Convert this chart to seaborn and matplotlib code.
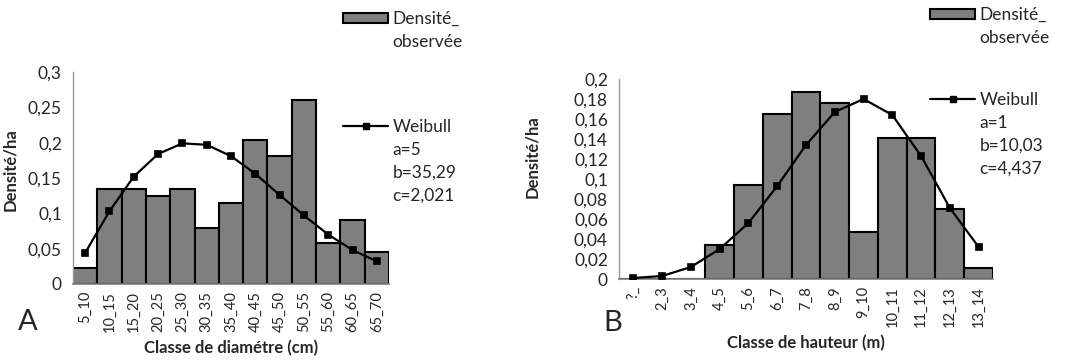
import numpy as np
import pandas as pd
import matplotlib
matplotlib.use("Agg")
import matplotlib.pyplot as plt
from matplotlib.lines import Line2D
from matplotlib.patches import Patch
import seaborn as sns


# Panel A: diameter classes
diam_classes = ["5_10", "10_15", "15_20", "20_25", "25_30", "30_35", "35_40",
                "40_45", "45_50", "50_55", "55_60", "60_65", "65_70"]
diam_observed = [0.022, 0.134, 0.135, 0.124, 0.135, 0.079, 0.114,
                 0.204, 0.181, 0.261, 0.058, 0.091, 0.045]
diam_weibull = [0.044, 0.103, 0.152, 0.184, 0.199, 0.197, 0.181,
                0.156, 0.126, 0.097, 0.070, 0.048, 0.032]
diam_params = ["a=5", "b=35,29", "c=2,021"]
diam_yticks = [0, 0.05, 0.1, 0.15, 0.2, 0.25, 0.3]

# Panel B: height classes
haut_classes = ["?_", "2_3", "3_4", "4_5", "5_6", "6_7", "7_8", "8_9",
                "9_10", "10_11", "11_12", "12_13", "13_14"]
haut_observed = [0, 0, 0, 0.034, 0.094, 0.165, 0.187, 0.176,
                 0.047, 0.141, 0.141, 0.070, 0.011]
haut_weibull = [0.001, 0.003, 0.012, 0.030, 0.056, 0.093, 0.134, 0.167,
                0.180, 0.164, 0.123, 0.071, 0.032]
haut_params = ["a=1", "b=10,03", "c=4,437"]
haut_yticks = [0, 0.02, 0.04, 0.06, 0.08, 0.1, 0.12, 0.14, 0.16, 0.18, 0.2]

BAR_COLOR = "#7f7f7f"
TEXT_COLOR = "#262626"
AXIS_COLOR = "#9a9a9a"


def comma(v: float) -> str:
    return f"{v:g}".replace(".", ",")


def draw_panel(ax, classes, observed, weibull, yticks, xlabel):
    sns.barplot(x=classes, y=observed, color=BAR_COLOR, edgecolor="black",
                linewidth=1.5, width=1.0, saturation=1, ax=ax, zorder=2)
    sns.pointplot(x=classes, y=weibull, color="black", markers="s",
                  linestyles="-", markersize=4.5, linewidth=1.6,
                  errorbar=None, ax=ax, zorder=3)
    ax.set_xlim(-0.5, len(classes) - 0.5)
    ax.set_ylim(yticks[0], yticks[-1])
    ax.set_yticks(yticks)
    ax.set_yticklabels([comma(v) for v in yticks], fontsize=12.5, color=TEXT_COLOR)
    ax.set_xticks(range(len(classes)))
    ax.set_xticklabels(classes, rotation=90, fontsize=10.5, color=TEXT_COLOR)
    ax.tick_params(axis="x", length=0, pad=5)
    ax.tick_params(axis="y", length=4, color=AXIS_COLOR, pad=4)
    for side in ["top", "right"]:
        ax.spines[side].set_visible(False)
    ax.spines["left"].set_color(AXIS_COLOR)
    ax.spines["bottom"].set_color("#808080")
    ax.spines["left"].set_linewidth(1.0)
    ax.spines["bottom"].set_linewidth(1.2)
    ax.set_xlabel(xlabel, fontsize=12, fontweight="bold", color=TEXT_COLOR,
                  labelpad=6)
    ax.set_ylabel("Densité/ha", fontsize=12, fontweight="bold", color=TEXT_COLOR)
    ax.grid(False)


def add_legends(fig, x, y_bar, y_line, params):
    blank = Patch(facecolor="none", edgecolor="none")
    bar_handle = Patch(facecolor=BAR_COLOR, edgecolor="black", linewidth=1.5)
    leg1 = fig.legend([bar_handle, blank], ["Densité_", "observée"],
                      loc="upper left", bbox_to_anchor=(x, y_bar),
                      frameon=False, fontsize=12.5, handlelength=2.6,
                      handleheight=0.5, handletextpad=0.25, labelspacing=0.4,
                      borderpad=0, borderaxespad=0)
    line_handle = Line2D([], [], color="black", marker="s", markersize=4.5,
                         linewidth=1.6)
    leg2 = fig.legend([line_handle, blank, blank, blank], ["Weibull"] + params,
                      loc="upper left", bbox_to_anchor=(x, y_line),
                      frameon=False, fontsize=12.5, handlelength=2.6,
                      handletextpad=0.25, labelspacing=0.4,
                      borderpad=0, borderaxespad=0)
    for leg in (leg1, leg2):
        for t in leg.get_texts():
            t.set_color(TEXT_COLOR)


def main() -> None:
    sns.set_theme(style="white")
    plt.rcParams["font.family"] = ["Lato", "DejaVu Sans"]

    fig = plt.figure(figsize=(10.77, 3.63), dpi=100)
    ax_a = fig.add_axes([73 / 1077, 1 - 284 / 363, 316 / 1077, 212 / 363])
    ax_b = fig.add_axes([619 / 1077, 1 - 279 / 363, 374 / 1077, 200 / 363])

    draw_panel(ax_a, diam_classes, diam_observed, diam_weibull, diam_yticks,
               "Classe de diamétre (cm)")
    draw_panel(ax_b, haut_classes, haut_observed, haut_weibull, haut_yticks,
               "Classe de hauteur (m)")

    ax_a.yaxis.set_label_coords(-0.175, 0.54)
    ax_b.yaxis.set_label_coords(-0.21, 0.61)

    add_legends(fig, 343 / 1077, 1 - 11 / 363, 1 - 119 / 363, diam_params)
    add_legends(fig, 930 / 1077, 1 - 7 / 363, 1 - 92 / 363, haut_params)

    fig.text(18 / 1077, 1 - 322 / 363, "A", fontsize=21, color=TEXT_COLOR,
             va="center", ha="left")
    fig.text(603 / 1077, 1 - 323 / 363, "B", fontsize=21, color=TEXT_COLOR,
             va="center", ha="left")

    fig.savefig("out.png", dpi=100)
    plt.close(fig)


if __name__ == "__main__":
    main()
